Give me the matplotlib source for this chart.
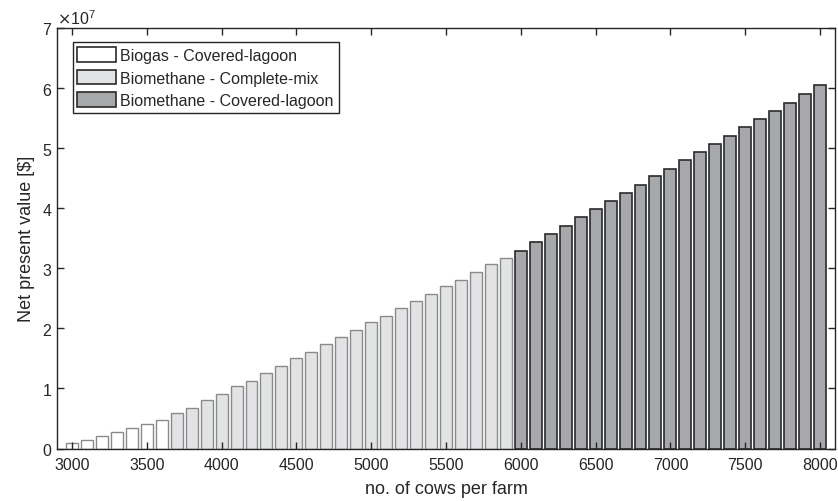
import matplotlib
matplotlib.use("Agg")
import matplotlib.pyplot as plt
import numpy as np

plt.rcParams['font.family'] = ['Liberation Sans', 'DejaVu Sans']

cows_biogas = [3000, 3100, 3200, 3300, 3400, 3500, 3600]
npv_biogas = [0.088, 0.14, 0.21, 0.28, 0.34, 0.41, 0.475]

cows_cm = [3700, 3800, 3900, 4000, 4100, 4200, 4300, 4400, 4500, 4600, 4700, 4800,
           4900, 5000, 5100, 5200, 5300, 5400, 5500, 5600, 5700, 5800, 5900]
npv_cm = [0.585, 0.67, 0.81, 0.91, 1.04, 1.13, 1.25, 1.37, 1.51, 1.60, 1.74, 1.85,
          1.97, 2.11, 2.21, 2.34, 2.45, 2.58, 2.70, 2.81, 2.94, 3.07, 3.17]

cows_cl = [6000, 6100, 6200, 6300, 6400, 6500, 6600, 6700, 6800, 6900, 7000,
           7100, 7200, 7300, 7400, 7500, 7600, 7700, 7800, 7900, 8000]
npv_cl = [3.29, 3.43, 3.57, 3.71, 3.85, 3.98, 4.12, 4.26, 4.39, 4.53, 4.66,
          4.80, 4.94, 5.07, 5.21, 5.35, 5.48, 5.62, 5.75, 5.90, 6.05]

labels = ['Biogas - Covered-lagoon', 'Biomethane - Complete-mix', 'Biomethane - Covered-lagoon']
xticks = [3000, 3500, 4000, 4500, 5000, 5500, 6000, 6500, 7000, 7500, 8000]
yticks = [0, 1, 2, 3, 4, 5, 6, 7]

scale = 1e7
axcol = '#262626'
tfs = 11.5
lfs = 13

fig = plt.figure(figsize=(8.38, 5.02), dpi=100)
ax = fig.add_axes([57/838, 1 - 449.5/502, (835-57)/838, (449.5-29)/502])

ax.bar(cows_biogas, np.array(npv_biogas) * scale, width=80, color='white',
       edgecolor='#8a8a8a', linewidth=1.0, label=labels[0])
ax.bar(cows_cm, np.array(npv_cm) * scale, width=80, color='#e2e3e5',
       edgecolor='#8a8a8a', linewidth=1.0, label=labels[1])
ax.bar(cows_cl, np.array(npv_cl) * scale, width=80, color='#a7a8ac',
       edgecolor='#2a2a2a', linewidth=1.2, label=labels[2])

ax.set_xlim(2900, 8100)
ax.set_ylim(0, 7 * scale)
ax.set_xticks(xticks)
ax.set_yticks([v * scale for v in yticks])
ax.ticklabel_format(axis='y', style='sci', scilimits=(0, 0), useMathText=True)
ax.yaxis.get_offset_text().set_fontsize(tfs)
ax.yaxis.get_offset_text().set_color(axcol)

ax.tick_params(direction='in', top=True, right=True, length=5, width=1.0,
               colors=axcol, labelsize=tfs, labelcolor=axcol)
ax.tick_params(axis='x', pad=6)
for s in ax.spines.values():
    s.set_color(axcol)
    s.set_linewidth(1.0)

ax.set_xlabel('no. of cows per farm', fontsize=lfs, color=axcol, labelpad=6)
ax.set_ylabel('Net present value [\\$]', fontsize=lfs, color=axcol, labelpad=5)

leg = ax.legend(loc='upper left', bbox_to_anchor=(0.02, 0.966), fontsize=tfs,
                frameon=True, fancybox=False, edgecolor=axcol, framealpha=1,
                handlelength=2.4, handleheight=1.05, handletextpad=0.3,
                labelspacing=0.42, borderpad=0.3, borderaxespad=0)
leg.get_frame().set_linewidth(1.0)
for h in leg.legend_handles:
    h.set_edgecolor('#2a2a2a')
    h.set_linewidth(1.2)
for t in leg.get_texts():
    t.set_color(axcol)

fig.savefig('out.png', dpi=100)
